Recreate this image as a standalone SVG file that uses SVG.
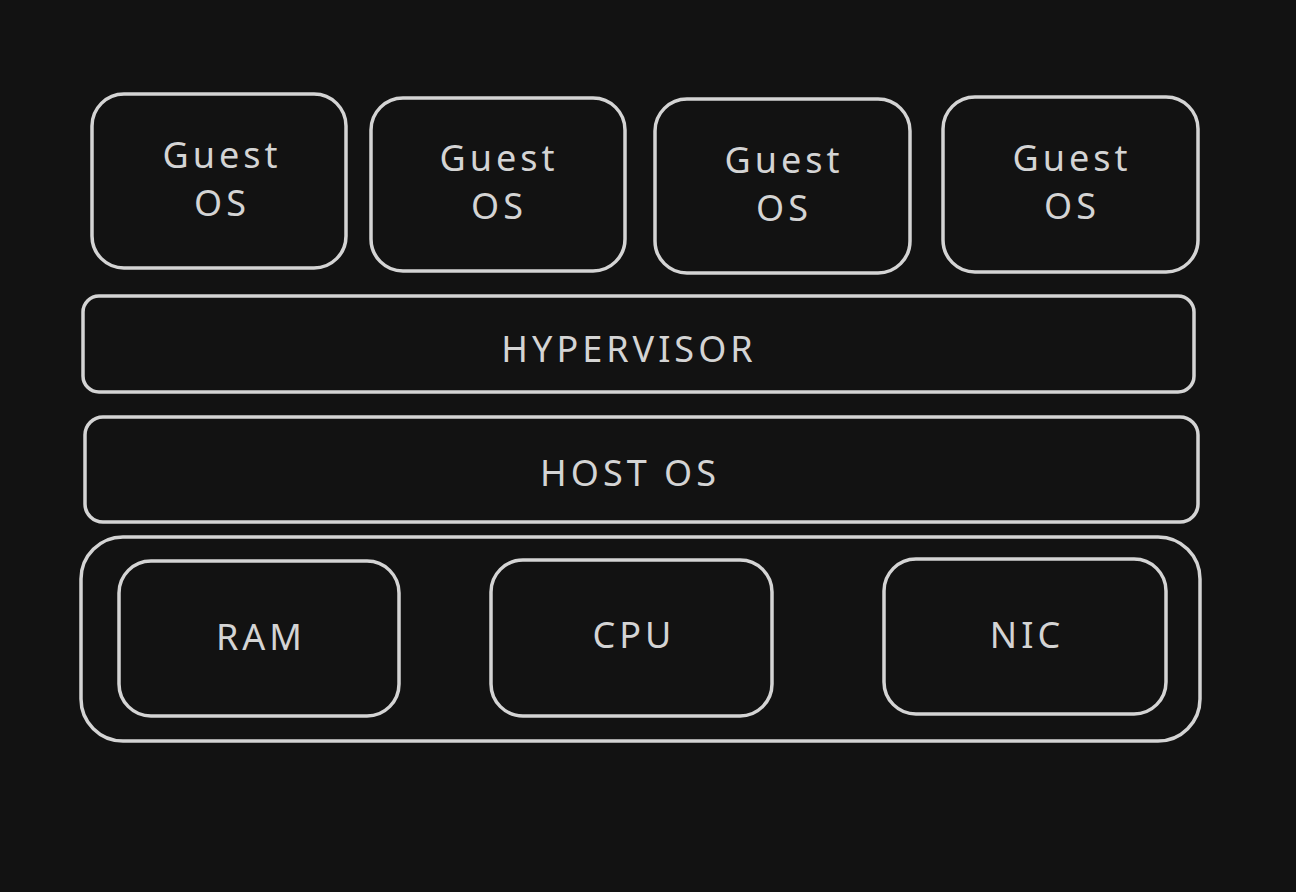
<svg xmlns="http://www.w3.org/2000/svg" width="1296" height="892" viewBox="0 0 1296 892">
<style>
.b{fill:none;stroke:#d4d4d4;stroke-width:3.5;stroke-linecap:round;stroke-linejoin:round}
.t{fill:#d4d4d4;font-family:"Noto Sans","DejaVu Sans",sans-serif;font-size:36px;letter-spacing:4px;text-anchor:middle}
</style>
<rect width="1296" height="892" fill="#121212"/>
<g id="guest1"><rect class="b" x="92" y="94" width="254" height="174" rx="32"/><text class="t" x="222" y="168">Guest</text><text class="t" x="222" y="216">OS</text></g>
<g id="guest2"><rect class="b" x="371" y="98" width="254" height="173" rx="32"/><text class="t" x="499" y="171">Guest</text><text class="t" x="499" y="219">OS</text></g>
<g id="guest3"><rect class="b" x="655" y="99" width="255" height="174" rx="32"/><text class="t" x="784" y="173">Guest</text><text class="t" x="784" y="221">OS</text></g>
<g id="guest4"><rect class="b" x="943" y="97" width="255" height="175" rx="32"/><text class="t" x="1072" y="171">Guest</text><text class="t" x="1072" y="219">OS</text></g>
<g id="hypervisor"><rect class="b" x="83" y="296" width="1111" height="96" rx="16"/><text class="t" x="629" y="362">HYPERVISOR</text></g>
<g id="hostos"><rect class="b" x="85" y="417" width="1113" height="105" rx="18"/><text class="t" x="630" y="486">HOST OS</text></g>
<g id="hardware"><rect class="b" x="81" y="537" width="1119" height="204" rx="42"/></g>
<g id="ram"><rect class="b" x="119" y="561" width="280" height="155" rx="32"/><text class="t" x="261" y="650">RAM</text></g>
<g id="cpu"><rect class="b" x="491" y="560" width="281" height="156" rx="32"/><text class="t" x="634" y="648">CPU</text></g>
<g id="nic"><rect class="b" x="884" y="559" width="282" height="155" rx="32"/><text class="t" x="1027" y="648">NIC</text></g>
<g id="connectors"></g>
</svg>
